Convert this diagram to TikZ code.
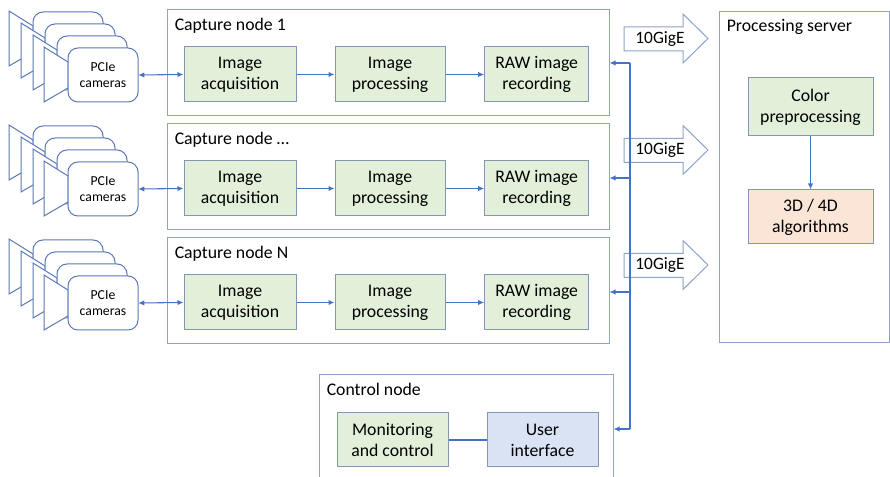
\documentclass[tikz,border=0pt]{standalone}
\usepackage{fontspec}
\setmainfont{Carlito}
\usepackage{tikz}
\usetikzlibrary{
    arrows.meta,
    positioning,
    calc
}

\definecolor{wireblue}{HTML}{4472C4}
\definecolor{taskgreen}{HTML}{E2F0D9}
\definecolor{taskorange}{HTML}{FBE5D6}
\definecolor{taskblue}{HTML}{DAE3F3}
\definecolor{taskline}{HTML}{8497B0}
\definecolor{groupline}{HTML}{8FA3C7}
\definecolor{camline}{HTML}{5B78B5}

\tikzset{
  group/.style={
    draw=groupline,
    line width=0.75pt,
    rectangle,
    inner sep=0pt
  },
  grouptitle/.style={
    anchor=north west,
    inner sep=0pt,
    font=\fontsize{13.3}{15.8}\selectfont
  },
  task/.style={
    draw=taskline,
    line width=0.75pt,
    fill=taskgreen,
    align=center,
    minimum height=41.25pt,
    inner sep=0pt,
    font=\fontsize{13.3}{15.8}\selectfont
  },
  camtext/.style={
    align=center,
    minimum width=52.5pt,
    minimum height=40.5pt,
    inner sep=0pt,
    font=\fontsize{10.3}{12}\selectfont
  },
  gigetext/.style={
    inner sep=0pt,
    font=\fontsize{13}{15}\selectfont
  },
  link/.style={
    draw=wireblue,
    line width=0.8pt,
    -{Latex[length=4.5pt,width=4pt]}
  },
  duplex/.style={
    link,
    {Latex[length=4.5pt,width=4pt]}-{Latex[length=4.5pt,width=4pt]}
  },
  wire/.style={draw=wireblue, line width=0.8pt},
  gigearrow/.style={draw=groupline, line width=0.75pt, fill=white},
  camera/.pic={
    \draw[camline, line width=0.75pt, fill=white]
      (-24,-1) -- (0,14) -- (0,40) -- (-24,54) -- cycle;
    \draw[camline, line width=0.75pt, fill=white, rounded corners=7.5pt]
      (0,0) rectangle (70,54);
  }
}

\begin{document}
\begin{tikzpicture}[x=0.75pt, y=-0.75pt]

  \path[use as bounding box, fill=white] (0,0) rectangle (890,477);

  % capture node 1 {{{
  \node[
    group,
    minimum width=331.5pt,
    minimum height=79.5pt
  ] (cap1) at (388,63) {};
  \node[grouptitle] (cap1title)
    at ([xshift=6pt, yshift=-6pt]cap1.north west) {Capture node 1};
  \node[task, minimum width=84pt] (acq1) at (240,74.5) {Image\\acquisition};
  \node[task, minimum width=82.5pt, right=28.5pt of acq1] (proc1) {Image\\processing};
  \node[task, minimum width=78pt, right=29pt of proc1] (raw1) {RAW image\\recording};
  \pic at (33,12) {camera};
  \pic at (45,24) {camera};
  \pic at (57,36) {camera};
  \pic at (68,48) {camera};
  \node[camtext] (cams1) at (103,75) {PCIe\\cameras};
  \draw[duplex] (cams1.east) -- (acq1.west);
  \draw[link] (acq1) -- (proc1);
  \draw[link] (proc1) -- (raw1);
  % }}}

  % capture node ... {{{
  \node[
    group,
    minimum width=331.5pt,
    minimum height=79.5pt
  ] (cap2) at (388,177) {};
  \node[grouptitle] (cap2title)
    at ([xshift=6pt, yshift=-6pt]cap2.north west) {Capture node …};
  \node[task, minimum width=84pt] (acq2) at (240,188.5) {Image\\acquisition};
  \node[task, minimum width=82.5pt, right=28.5pt of acq2] (proc2) {Image\\processing};
  \node[task, minimum width=78pt, right=29pt of proc2] (raw2) {RAW image\\recording};
  \pic at (33,126) {camera};
  \pic at (45,138) {camera};
  \pic at (57,150) {camera};
  \pic at (68,162) {camera};
  \node[camtext] (cams2) at (103,189) {PCIe\\cameras};
  \draw[duplex] (cams2.east) -- (acq2.west);
  \draw[link] (acq2) -- (proc2);
  \draw[link] (proc2) -- (raw2);
  % }}}

  % capture node N {{{
  \node[
    group,
    minimum width=331.5pt,
    minimum height=79.5pt
  ] (cap3) at (388,291) {};
  \node[grouptitle] (cap3title)
    at ([xshift=6pt, yshift=-6pt]cap3.north west) {Capture node N};
  \node[task, minimum width=84pt] (acq3) at (240,302.5) {Image\\acquisition};
  \node[task, minimum width=82.5pt, right=28.5pt of acq3] (proc3) {Image\\processing};
  \node[task, minimum width=78pt, right=29pt of proc3] (raw3) {RAW image\\recording};
  \pic at (33,240) {camera};
  \pic at (45,252) {camera};
  \pic at (57,264) {camera};
  \pic at (68,276) {camera};
  \node[camtext] (cams3) at (103,303) {PCIe\\cameras};
  \draw[duplex] (cams3.east) -- (acq3.west);
  \draw[link] (acq3) -- (proc3);
  \draw[link] (proc3) -- (raw3);
  % }}}

  % control node {{{
  \node[
    group,
    minimum width=220.5pt,
    minimum height=90pt
  ] (ctrl) at (466,435) {};
  \node[grouptitle] (ctrltitle)
    at ([xshift=6pt, yshift=-6pt]ctrl.north west) {Control node};
  \node[task, minimum width=83.25pt, minimum height=40.5pt] (monitor)
    at (392.5,440) {Monitoring\\and control};
  \node[
    task,
    fill=taskblue,
    minimum width=83.25pt,
    minimum height=40.5pt,
    right=28.5pt of monitor
  ] (ui) {User\\interface};
  \draw[wire, line width=1pt] (monitor) -- (ui);
  % }}}

  % processing server {{{
  \node[
    group,
    minimum width=127.5pt,
    minimum height=248.25pt
  ] (server) at (804,177.5) {};
  \node[grouptitle] (servertitle)
    at ([xshift=6pt, yshift=-6pt]server.north west) {Processing server};
  \node[task, minimum width=93.75pt, minimum height=43.5pt] (color)
    at (810.5,107) {Color\\preprocessing};
  \node[task, fill=taskorange, minimum width=93.75pt, minimum height=40.5pt] (algo)
    at (810.5,217) {3D / 4D\\algorithms};
  \draw[link] (color) -- (algo);
  % }}}

  % 10GigE uplinks {{{
  \draw[gigearrow] (624,27) -- ++(59,0) -- ++(0,-13) -- ++(25,24.5)
    -- ++(-25,24.5) -- ++(0,-12) -- ++(-59,0) -- cycle;
  \node[gigetext] (gige1) at (660,39) {10GigE};
  \draw[gigearrow] (624,138.5) -- ++(59,0) -- ++(0,-13) -- ++(25,24.5)
    -- ++(-25,24.5) -- ++(0,-12) -- ++(-59,0) -- cycle;
  \node[gigetext] (gige2) at (660,150.5) {10GigE};
  \draw[gigearrow] (624,253.5) -- ++(59,0) -- ++(0,-13) -- ++(25,24.5)
    -- ++(-25,24.5) -- ++(0,-12) -- ++(-59,0) -- cycle;
  \node[gigetext] (gige3) at (660,265.5) {10GigE};
  % }}}

  % control bus {{{
  \coordinate (bus1) at (630,63);
  \coordinate (bus2) at (630,178);
  \coordinate (bus3) at (630,292);
  \coordinate (bus4) at (630,429);
  \draw[wire] (bus1) -- (bus4);
  \draw[link] (bus1) -- (bus1 -| cap1.east);
  \draw[link] (bus2) -- (bus2 -| cap2.east);
  \draw[link] (bus3) -- (bus3 -| cap3.east);
  \draw[link] (bus4) -- (bus4 -| ctrl.east);
  % }}}

\end{tikzpicture}
\end{document}
